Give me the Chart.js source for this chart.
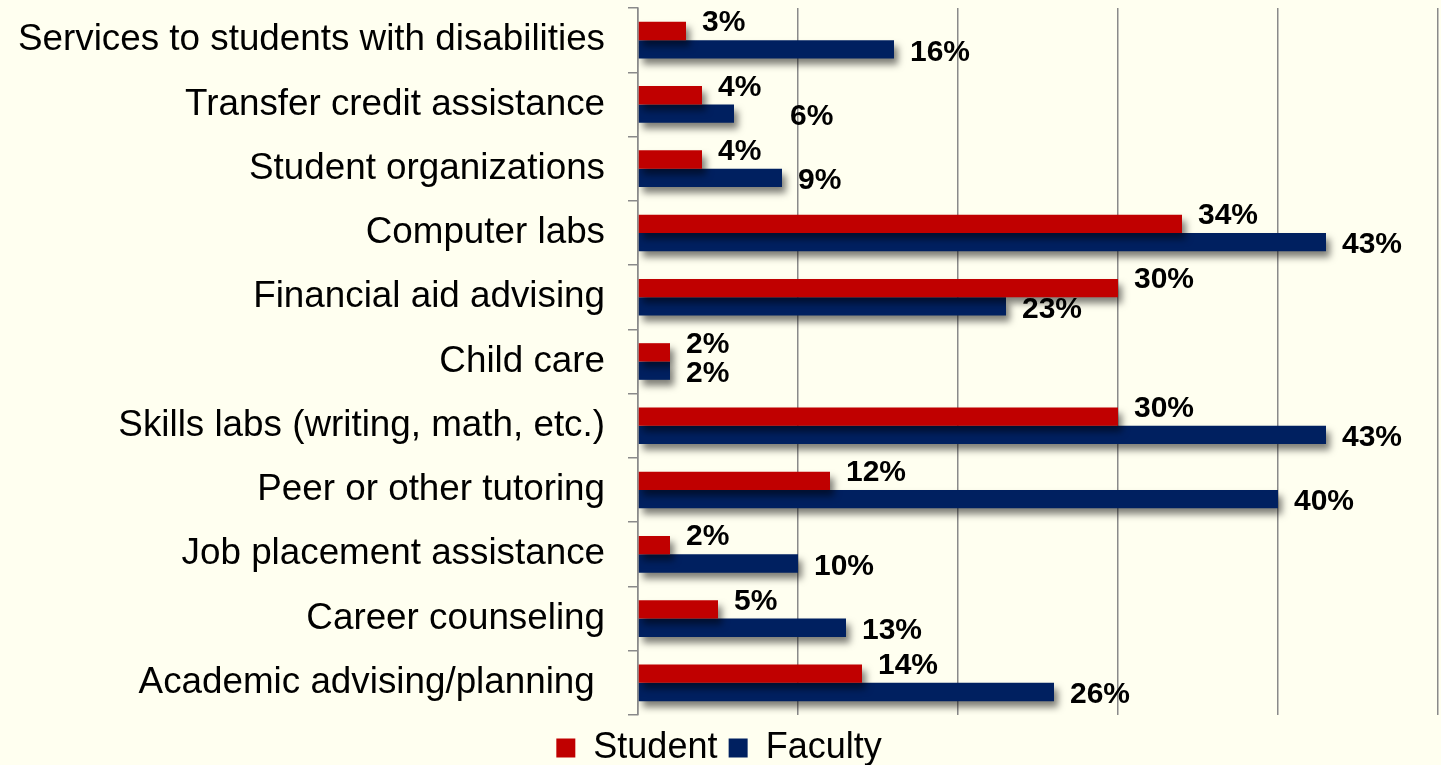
<!DOCTYPE html>
<html>
<head>
<meta charset="utf-8">
<script src="https://cdn.jsdelivr.net/npm/chart.js@4"></script>
<style>
  html, body { margin: 0; padding: 0; background: #FFFFF0; }
  #wrap { width: 1441px; height: 765px; position: relative; }
</style>
</head>
<body>
<div id="wrap"><canvas id="services-chart"></canvas></div>
<script>
const categories = [
  'Services to students with disabilities',
  'Transfer credit assistance',
  'Student organizations',
  'Computer labs',
  'Financial aid advising',
  'Child care',
  'Skills labs (writing, math, etc.)',
  'Peer or other tutoring',
  'Job placement assistance',
  'Career counseling',
  'Academic advising/planning ',
];
const studentPct = [3, 4, 4, 34, 30, 2, 30, 12, 2, 5, 14];
const facultyPct = [16, 6, 9, 43, 23, 2, 43, 40, 10, 13, 26];

const RED = '#C00000';
const NAVY = '#002060';
const GRID = '#8A8A8A';
const FONT = '"Liberation Sans", Arial, sans-serif';

// drop shadow under the bars, then the percent labels on top
const barDecor = {
  id: 'barDecor',
  beforeDatasetsDraw(chart) {
    const ctx = chart.ctx;
    ctx.save();
    ctx.shadowColor = 'rgba(0, 0, 0, 0.5)';
    ctx.shadowBlur = 7;
    ctx.shadowOffsetX = 4;
    ctx.shadowOffsetY = 6;
  },
  afterDatasetsDraw(chart, args, opts) {
    const ctx = chart.ctx;
    ctx.restore();
    ctx.save();
    ctx.font = 'bold 30px ' + FONT;
    ctx.fillStyle = '#000';
    ctx.textAlign = 'left';
    ctx.textBaseline = 'middle';
    chart.data.datasets.forEach((ds, di) => {
      const meta = chart.getDatasetMeta(di);
      meta.data.forEach((bar, i) => {
        const nudge = (opts.nudges || []).find((n) => n.dataset === di && n.index === i);
        const dx = nudge ? nudge.dx : 0;
        const dy = di === 0 ? -8 : 3;
        ctx.fillText(ds.data[i] + '%', bar.x + 16 + dx, bar.y + dy);
      });
    });
    ctx.restore();
  },
};

new Chart(document.getElementById('services-chart'), {
  type: 'bar',
  data: {
    labels: categories,
    datasets: [
      {
        label: 'Student',
        data: studentPct,
        backgroundColor: RED,
        categoryPercentage: 0.57,
        barPercentage: 1,
      },
      {
        label: 'Faculty',
        data: facultyPct,
        backgroundColor: NAVY,
        categoryPercentage: 0.57,
        barPercentage: 1,
      },
    ],
  },
  options: {
    indexAxis: 'y',
    responsive: true,
    maintainAspectRatio: false,
    animation: false,
    layout: { padding: { top: 8, right: 3, left: 0, bottom: -11 } },
    plugins: {
      legend: {
        position: 'bottom',
        labels: {
          font: { size: 36, family: FONT },
          color: '#000',
          boxWidth: 19,
          boxHeight: 19,
          padding: 4,
          generateLabels(chart) {
            const items = Chart.defaults.plugins.legend.labels.generateLabels(chart);
            // a little more room after the first entry
            items[0].text = items[0].text + '\u2009';
            return items;
          },
        },
      },
      tooltip: { enabled: false },
      barDecor: {
        nudges: [{ dataset: 1, index: 1, dx: 40 }],
      },
    },
    scales: {
      x: {
        min: 0,
        max: 50,
        afterFit: (scale) => { scale.height = 11; },
        ticks: { display: false, stepSize: 10 },
        grid: { color: GRID, lineWidth: 1.5, drawTicks: false },
        border: { display: false },
      },
      y: {
        afterFit: (scale) => {
          scale.width = 638;
          scale.paddingTop = 0;
          scale.paddingBottom = 0;
        },
        ticks: {
          font: { size: 36.8, family: FONT },
          color: '#000',
          padding: 23,
          autoSkip: false,
        },
        grid: { drawOnChartArea: false, tickLength: 10, color: GRID, lineWidth: 1.5 },
        border: { color: GRID, width: 1.5 },
      },
    },
  },
  plugins: [barDecor],
});
</script>
</body>
</html>
